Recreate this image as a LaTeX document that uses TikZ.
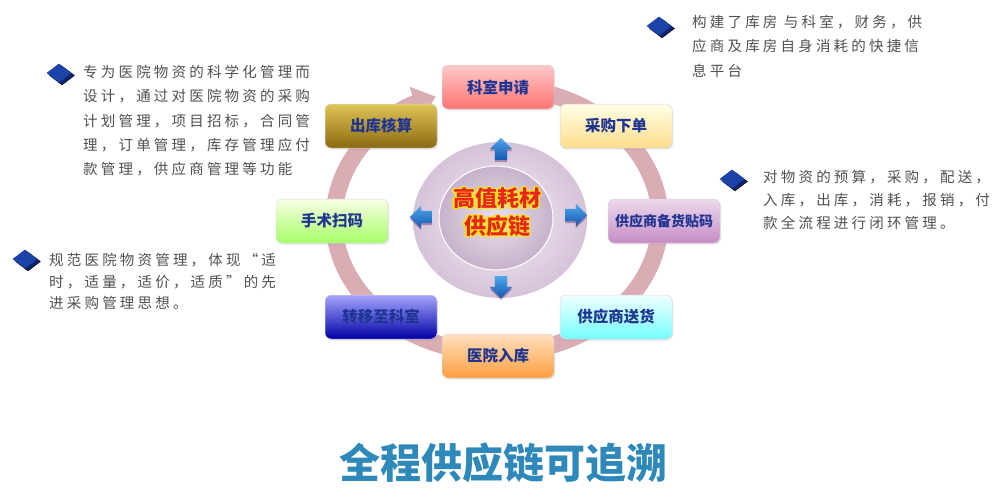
\documentclass[tikz,border=0pt]{standalone}
\usepackage{fontspec}
\usepackage[copies]{contour}
\setmainfont{Noto Sans CJK SC}
\newfontfamily\bodyfont[LetterSpace=22]{Noto Sans CJK SC}
\usetikzlibrary{arrows.meta, positioning, shapes.geometric, shapes.arrows, shadows}
\definecolor{cxring}{HTML}{DAADB5}
\definecolor{cxbody}{HTML}{505050}
\definecolor{cxtitle}{HTML}{2E88BA}
\definecolor{cxlabel}{HTML}{1F3591}
\definecolor{cxbullet}{HTML}{1C44A8}
\definecolor{cxbulletdk}{HTML}{10246E}
\definecolor{cxred}{HTML}{E8261C}
\definecolor{cxyellow}{HTML}{F7E51E}
\definecolor{cxarrow}{HTML}{1558B0}
\definecolor{cxarrowlt}{HTML}{4FA6EC}
\definecolor{cxdisc}{HTML}{F5F0F6}
\definecolor{cxdiscdk}{HTML}{D6C2D9}
\definecolor{cxcore}{HTML}{EAE0EC}
\definecolor{cxcoredk}{HTML}{C6B2CB}
\definecolor{cxgold}{HTML}{E0C455}
\definecolor{cxgolddk}{HTML}{8A6A12}
\contourlength{1.2pt}

\begin{document}
\begin{tikzpicture}[x=1pt, y=-1pt,
  every node/.style={inner sep=0pt},
  stage/.style={rectangle, rounded corners=6pt, minimum width=112pt, minimum height=44pt, draw=white!70!gray, line width=0.5pt, font=\fontsize{15.5}{18}\selectfont\bfseries, text=cxlabel, drop shadow={opacity=0.2, shadow xshift=1pt, shadow yshift=-1.5pt}},
  bullet/.style={diamond, minimum width=25pt, minimum height=19pt, fill=cxbullet, copy shadow={shadow xshift=3pt, shadow yshift=-2.5pt, fill=cxbulletdk}},
  note/.style={anchor=north west, align=left, text=cxbody, font=\bodyfont\fontsize{14.5}{24.3}\selectfont},
  hub/.style={single arrow, inner sep=6pt, minimum height=22pt, single arrow head extend=5pt, top color=cxarrowlt, bottom color=cxarrow, drop shadow={opacity=0.35, shadow xshift=0pt, shadow yshift=-2pt, fill=violet!60!black}},
]
\useasboundingbox (0,0) rectangle (1001,498);

% Ring
\coordinate (ringc) at (497,220);
\draw[cxring, line width=17pt, -{Triangle[width=34pt, length=22pt]}] ([shift={(70:163pt and 133pt)}]ringc) arc[start angle=70, end angle=-248, x radius=163pt, y radius=133pt];

% Stages
\node[stage, top color=white!40!red!35, bottom color=red!55!white] (apply) at (498,87) {科室申请};
\node[stage, top color=yellow!10!white, bottom color=yellow!40!orange!45] (order) at (616,126) {采购下单};
\node[stage, top color=violet!15!white, bottom color=violet!45!white, font=\fontsize{14}{18}\selectfont\bfseries] (tagging) at (664,221) {供应商备货贴码};
\node[stage, top color=cyan!5!white, bottom color=cyan!55!white] (deliver) at (616,317) {供应商送货};
\node[stage, top color=orange!25!white, bottom color=orange!75!white] (stockin) at (498,356) {医院入库};
\node[stage, top color=blue!35!white, bottom color=blue!65!black] (transfer) at (381,317) {转移至科室};
\node[stage, top color=lime!10!white, bottom color=lime!55!green!60] (scan) at (332,221) {手术扫码};
\node[stage, top color=cxgold, bottom color=cxgolddk] (settle) at (381,126) {出库核算};

% Hub
\node[ellipse, minimum width=174pt, minimum height=156pt, inner color=cxdisc, outer color=cxdiscdk] (disc) at (500,220) {};
\node[ellipse, minimum width=114pt, minimum height=104pt, inner color=cxcore, outer color=cxcoredk, draw=white, line width=1pt] (core) at (496,218) {};
\node[align=center, text=cxred, font=\fontsize{22}{28}\selectfont\bfseries] (hubtext) at (497,213) {\contour{cxyellow}{高值耗材}\\\contour{cxyellow}{供应链}};
\node[hub, shape border rotate=90] (toup) at (501,152) {};
\node[hub, shape border rotate=270] (todown) at (501,284) {};
\node[hub, shape border rotate=180] (toleft) at (424,217) {};
\node[hub] (toright) at (573,215) {};

% Notes
\node[bullet] (b1) at (59,73) {};
\node[note] (n1) at (83,65) {专为医院物资的科学化管理而\\设计，通过对医院物资的采购\\计划管理，项目招标，合同管\\理，订单管理，库存管理应付\\款管理，供应商管理等功能};
\node[bullet] (b2) at (659,26) {};
\node[note] (n2) at (692,15) {构建了库房 与科室，财务，供\\应商及库房自身消耗的快捷信\\息平台};
\node[bullet] (b3) at (732,179) {};
\node[note, font=\bodyfont\fontsize{14.5}{23}\selectfont] (n3) at (763,170) {对物资的预算，采购，配送，\\入库，出库，消耗，报销，付\\款全流程进行闭环管理。};
\node[bullet] (b4) at (25,259) {};
\node[note, font=\bodyfont\fontsize{14.5}{21.5}\selectfont] (n4) at (49,253) {规范医院物资管理，体现“适\\时，适量，适价，适质”的先\\进采购管理思想。};

% Title
\node[text=cxtitle, font=\fontsize{41}{45}\selectfont\bfseries] (title) at (503,463) {全程供应链可追溯};

\end{tikzpicture}
\end{document}
